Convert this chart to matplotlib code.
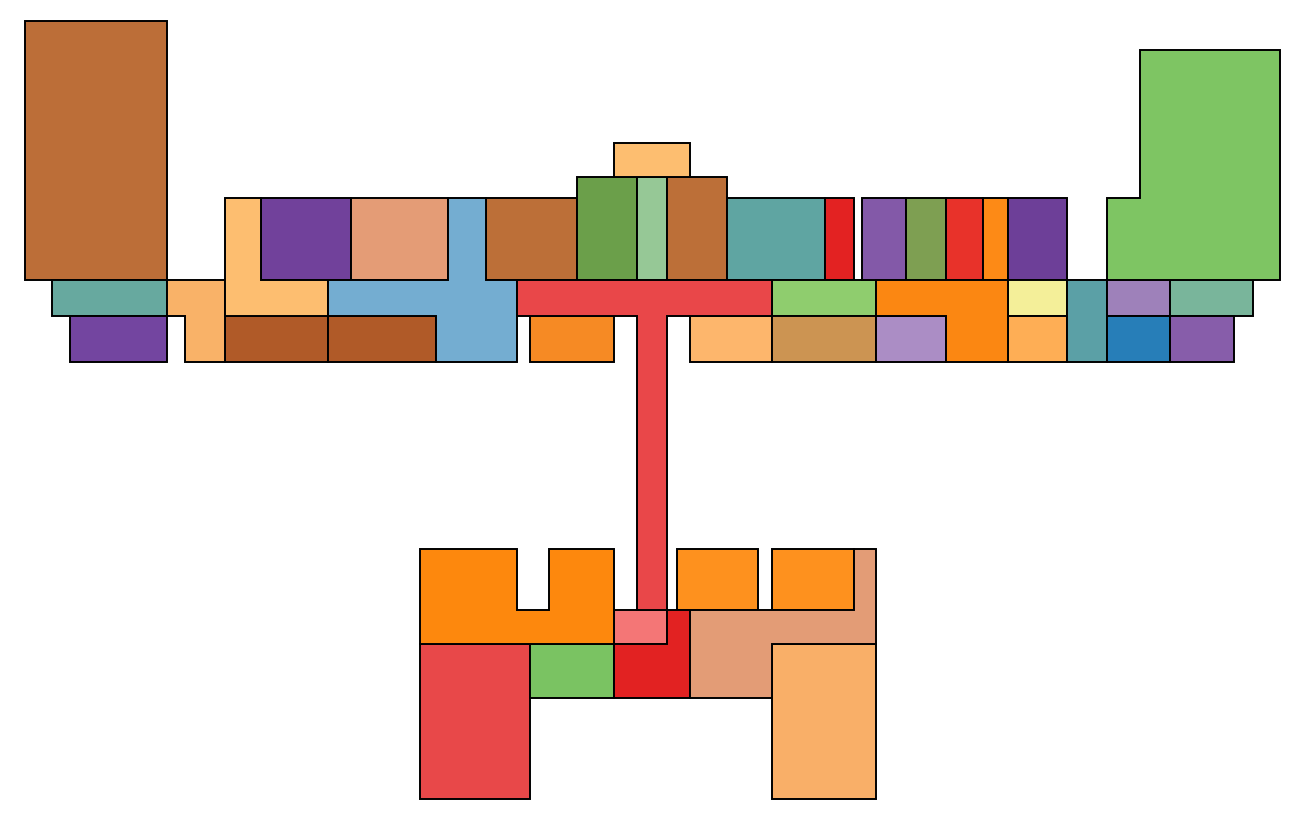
import matplotlib
matplotlib.use('Agg')
import matplotlib.pyplot as plt
from matplotlib.patches import Polygon

# room outlines (plan units, y grows downward)
rect_boxes = [
    (25, 21, 167, 280), (52, 280, 167, 316), (70, 316, 167, 362),
    (261, 198, 351, 280), (351, 198, 448, 280),
    (225, 316, 328, 362), (328, 316, 436, 362),
    (486, 198, 577, 280), (577, 177, 637, 280), (637, 177, 667, 280),
    (667, 177, 727, 280), (614, 143, 690, 177), (727, 198, 825, 280),
    (825, 198, 854, 280), (530, 316, 614, 362), (690, 316, 772, 362),
    (772, 280, 876, 316), (772, 316, 876, 362),
    (862, 198, 906, 280), (906, 198, 946, 280), (946, 198, 983, 280),
    (983, 198, 1008, 280), (1008, 198, 1067, 280),
    (876, 316, 946, 362), (1008, 280, 1067, 316), (1008, 316, 1067, 362),
    (1067, 280, 1107, 362), (1107, 280, 1170, 316), (1170, 280, 1253, 316),
    (1107, 316, 1170, 362), (1170, 316, 1234, 362),
    (420, 644, 530, 799), (530, 644, 614, 698), (614, 610, 667, 644),
    (677, 549, 758, 610), (772, 549, 854, 610), (772, 644, 876, 799),
]
rect_colors = [
    '#bc6e38', '#67a99f', '#7345a0',
    '#71419b', '#e49c76',
    '#b05a28', '#b05a28',
    '#bc6f38', '#6b9f4a', '#96c896',
    '#bc6f38', '#fdbe70', '#5fa5a2',
    '#e32222', '#f68a24', '#fdb66c',
    '#8fcd6e', '#cc9452',
    '#8359a8', '#7e9f52', '#e8322a',
    '#fd8a16', '#6d3f98',
    '#ab8dc5', '#f4ef99', '#feae55',
    '#5ba0a6', '#9e81ba', '#79b59b',
    '#277eb8', '#875daa',
    '#e84849', '#7ac362', '#f47676',
    '#fe911e', '#fe911e', '#f9af68',
]

poly_shapes = [
    [(167, 280), (225, 280), (225, 362), (185, 362), (185, 316), (167, 316)],
    [(225, 198), (261, 198), (261, 280), (328, 280), (328, 316), (225, 316)],
    [(448, 198), (486, 198), (486, 280), (517, 280), (517, 362), (436, 362),
     (436, 316), (328, 316), (328, 280), (448, 280)],
    [(517, 280), (772, 280), (772, 316), (667, 316), (667, 610), (637, 610),
     (637, 316), (517, 316)],
    [(876, 280), (1008, 280), (1008, 362), (946, 362), (946, 316), (876, 316)],
    [(1107, 198), (1140, 198), (1140, 50), (1280, 50), (1280, 280), (1107, 280)],
    [(420, 549), (517, 549), (517, 610), (549, 610), (549, 549), (614, 549),
     (614, 644), (420, 644)],
    [(667, 610), (690, 610), (690, 698), (614, 698), (614, 644), (667, 644)],
    [(854, 549), (876, 549), (876, 644), (772, 644), (772, 698), (690, 698),
     (690, 610), (854, 610)],
]
poly_colors = ['#f9b268', '#fdbe70', '#74add1', '#e94749', '#fb8712',
               '#7ec563', '#fd880d', '#e22222', '#e39c76']

fig = plt.figure(figsize=(12.99, 8.25), dpi=100)
ax = fig.add_axes([0, 0, 1, 1])

for (x0, y0, x1, y1), c in zip(rect_boxes, rect_colors):
    pts = [(x0, y0), (x1, y0), (x1, y1), (x0, y1)]
    ax.add_patch(Polygon(pts, closed=True, facecolor=c, edgecolor='k', linewidth=1.4))
for pts, c in zip(poly_shapes, poly_colors):
    ax.add_patch(Polygon(pts, closed=True, facecolor=c, edgecolor='k', linewidth=1.4))

ax.set_xlim(0, 1299)
ax.set_ylim(825, 0)
ax.axis('off')
fig.savefig('out.png', dpi=100)
